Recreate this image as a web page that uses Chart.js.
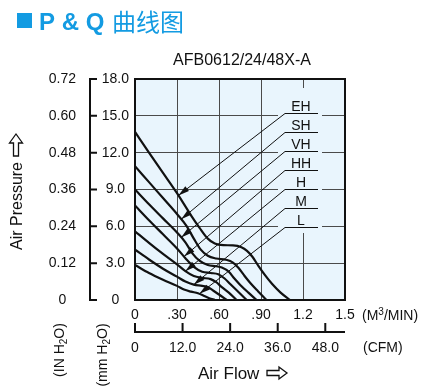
<!DOCTYPE html>
<html>
  <head>
    <title>P & Q</title>
    <script src="https://cdn.jsdelivr.net/npm/chart.js@4.4.1/dist/chart.umd.min.js"></script>
    <style>
      body { margin: 0; background: #fff; }
    </style>
  </head>

  <body>
    <canvas id="canvas" width="422" height="389"></canvas>
    <script>
      // P-Q curves, [air flow M3/MIN, pressure mmH2O]
      const curveNames = ['EH', 'SH', 'VH', 'HH', 'H', 'M', 'L'];
      const EH = [[0, 13.7], [0.1, 12.0], [0.2, 10.35], [0.3, 8.7], [0.4, 6.9], [0.46, 5.9], [0.52, 5.0], [0.57, 4.6], [0.63, 4.47], [0.7, 4.45], [0.76, 4.3], [0.8, 4.0], [0.84, 3.5], [0.88, 2.8], [0.93, 2.0], [0.98, 1.3], [1.04, 0.6], [1.107, 0]];
      const SH = [[0, 10.9], [0.1, 9.6], [0.2, 8.3], [0.3, 7.0], [0.37, 6.0], [0.42, 5.0], [0.47, 4.1], [0.52, 3.6], [0.58, 3.38], [0.65, 3.28], [0.7, 3.05], [0.74, 2.6], [0.78, 2.0], [0.83, 1.3], [0.88, 0.7], [0.94, 0]];
      const VH = [[0, 9.0], [0.1, 7.8], [0.2, 6.65], [0.3, 5.5], [0.36, 4.7], [0.41, 3.8], [0.46, 3.2], [0.52, 2.85], [0.58, 2.75], [0.62, 2.65], [0.67, 2.3], [0.71, 1.75], [0.75, 1.25], [0.81, 0.6], [0.869, 0]];
      const HH = [[0, 7.7], [0.1, 6.5], [0.2, 5.35], [0.3, 4.2], [0.36, 3.4], [0.42, 2.7], [0.48, 2.3], [0.54, 2.2], [0.595, 2.1], [0.64, 1.75], [0.68, 1.3], [0.73, 0.75], [0.798, 0]];
      const H = [[0, 5.6], [0.1, 4.65], [0.2, 3.75], [0.3, 2.9], [0.36, 2.35], [0.42, 1.95], [0.48, 1.8], [0.54, 1.7], [0.58, 1.45], [0.62, 1.05], [0.67, 0.6], [0.726, 0]];
      const M = [[0, 4.1], [0.1, 3.3], [0.2, 2.55], [0.3, 1.9], [0.36, 1.5], [0.42, 1.25], [0.48, 1.15], [0.52, 1.05], [0.56, 0.75], [0.6, 0.45], [0.655, 0]];
      const L = [[0, 2.85], [0.1, 2.2], [0.2, 1.65], [0.3, 1.15], [0.35, 0.85], [0.4, 0.68], [0.45, 0.55], [0.49, 0.35], [0.53, 0.15], [0.571, 0]];
      const curves = [EH, SH, VH, HH, H, M, L];
      // where each label's pointer meets its curve (M3/MIN)
      const pointerFlow = [0.31, 0.33, 0.33, 0.35, 0.36, 0.42, 0.46];

      const mmTicks = [0, 3, 6, 9, 12, 15, 18];
      const inTicks = [0, 0.12, 0.24, 0.36, 0.48, 0.6, 0.72];
      const m3Ticks = [0, 0.3, 0.6, 0.9, 1.2, 1.5];
      const m3Labels = ['0', '.30', '.60', '.90', '1.2', '1.5'];
      const cfmTicks = [0, 12, 24, 36, 48];
      const cfmPerM3 = 35.3147;

      const BLUE = '#139be2';
      const PLOT_BG = '#e9f5fd';
      const FONT = '"Liberation Sans", Arial, sans-serif';

      function pressAt(curve, q) {
        for (let i = 1; i < curve.length; i++) {
          if (q <= curve[i][0]) {
            const [x0, y0] = curve[i - 1];
            const [x1, y1] = curve[i];
            return y0 + (y1 - y0) * (q - x0) / (x1 - x0);
          }
        }
        return 0;
      }

      function setTicks(values) {
        return (scale) => { scale.ticks = values.map((v) => ({ value: v })); };
      }

      // text with a small lowered "2" (H2O)
      function drawH2O(ctx, before, after, x, y, size) {
        ctx.textAlign = 'left';
        ctx.font = size + 'px ' + FONT;
        const w1 = ctx.measureText(before).width;
        const w3 = ctx.measureText(after).width;
        ctx.font = Math.round(size * 0.7) + 'px ' + FONT;
        const w2 = ctx.measureText('2').width;
        let cx = x - (w1 + w2 + w3) / 2;
        ctx.font = size + 'px ' + FONT;
        ctx.fillText(before, cx, y);
        cx += w1;
        ctx.font = Math.round(size * 0.7) + 'px ' + FONT;
        ctx.fillText('2', cx, y + size * 0.22);
        cx += w2;
        ctx.font = size + 'px ' + FONT;
        ctx.fillText(after, cx, y);
      }

      // hollow arrow pointing right, starting at (x, y) centre line
      function hollowArrow(ctx, x, y, len, headLen, headH, shaftH) {
        ctx.beginPath();
        ctx.moveTo(x, y - shaftH / 2);
        ctx.lineTo(x + len - headLen, y - shaftH / 2);
        ctx.lineTo(x + len - headLen, y - headH / 2);
        ctx.lineTo(x + len, y);
        ctx.lineTo(x + len - headLen, y + headH / 2);
        ctx.lineTo(x + len - headLen, y + shaftH / 2);
        ctx.lineTo(x, y + shaftH / 2);
        ctx.closePath();
        ctx.lineWidth = 1.3;
        ctx.strokeStyle = '#111';
        ctx.stroke();
      }

      const decor = {
        id: 'decor',
        beforeDraw(chart) {
          const { ctx, chartArea: a } = chart;
          ctx.save();
          ctx.fillStyle = '#fff';
          ctx.fillRect(0, 0, chart.width, chart.height);
          ctx.fillStyle = PLOT_BG;
          ctx.fillRect(a.left, a.top, a.right - a.left, a.bottom - a.top);
          ctx.restore();
        },
        beforeDatasetsDraw(chart) {
          // label panel hides the grid behind the curve names
          const { ctx } = chart;
          ctx.save();
          ctx.fillStyle = PLOT_BG;
          ctx.fillRect(278, 88, 44, 145);
          ctx.restore();
        },
        afterDatasetsDraw(chart) {
          const { ctx, chartArea: a } = chart;
          const x = chart.scales.x;
          const y = chart.scales.y;
          const yIn = chart.scales.yIn;
          const xCfm = chart.scales.xCfm;
          ctx.save();

          // curve names, underlines, pointers
          curveNames.forEach((name, i) => {
            const ly = 113.5 + i * 19;
            ctx.fillStyle = '#111';
            ctx.font = '14px ' + FONT;
            ctx.textAlign = 'center';
            ctx.textBaseline = 'alphabetic';
            ctx.fillText(name, 301, ly - 3);
            ctx.strokeStyle = '#111';
            ctx.lineWidth = 1;
            ctx.beginPath();
            ctx.moveTo(285, ly);
            ctx.lineTo(318, ly);
            ctx.stroke();

            const q = pointerFlow[i];
            const tx = x.getPixelForValue(q);
            const ty = y.getPixelForValue(pressAt(curves[i], q));
            ctx.beginPath();
            ctx.moveTo(285, ly);
            ctx.lineTo(tx, ty);
            ctx.stroke();
            const dx = 285 - tx, dy = ly - ty;
            const len = Math.hypot(dx, dy);
            const ux = dx / len, uy = dy / len;
            ctx.beginPath();
            ctx.moveTo(tx, ty);
            ctx.lineTo(tx + ux * 11 - uy * 3, ty + uy * 11 + ux * 3);
            ctx.lineTo(tx + ux * 11 + uy * 3, ty + uy * 11 - ux * 3);
            ctx.closePath();
            ctx.fillStyle = '#111';
            ctx.fill();
          });

          // plot frame
          ctx.strokeStyle = '#111';
          ctx.lineWidth = 2;
          ctx.strokeRect(a.left, a.top, a.right - a.left, a.bottom - a.top);

          // inch scale bracket
          ctx.lineWidth = 2;
          ctx.beginPath();
          ctx.moveTo(90, yIn.getPixelForValue(0));
          ctx.lineTo(90, yIn.getPixelForValue(0.72));
          inTicks.forEach((v) => {
            const py = yIn.getPixelForValue(v);
            ctx.moveTo(89, py);
            ctx.lineTo(97, py);
          });
          ctx.stroke();

          // CFM axis line with upward ticks
          const cy = xCfm.top;
          ctx.beginPath();
          ctx.moveTo(a.left - 1, cy);
          ctx.lineTo(a.right, cy);
          cfmTicks.forEach((v) => {
            const px = xCfm.getPixelForValue(v);
            ctx.moveTo(px, cy + 1);
            ctx.lineTo(px, cy - 9);
          });
          ctx.stroke();

          // titles
          ctx.fillStyle = BLUE;
          ctx.fillRect(17, 13, 15, 15);
          ctx.textBaseline = 'alphabetic';
          ctx.textAlign = 'left';
          ctx.font = 'bold 24px ' + FONT;
          ctx.fillText('P & Q', 39, 30);
          ctx.font = '24px "Noto Sans CJK SC", sans-serif';
          ctx.fillText('曲线图', 112, 31);

          ctx.fillStyle = '#111';
          ctx.textAlign = 'center';
          ctx.font = '16px ' + FONT;
          ctx.fillText('AFB0612/24/48X-A', 242, 65);

          ctx.font = '14px ' + FONT;
          ctx.textAlign = 'left';
          ctx.fillText('(M', 362, 320);
          const w = ctx.measureText('(M').width;
          ctx.font = '10px ' + FONT;
          ctx.fillText('3', 362 + w, 315);
          const w3 = ctx.measureText('3').width;
          ctx.font = '14px ' + FONT;
          ctx.fillText('/MIN)', 362 + w + w3, 320);
          ctx.fillText('(CFM)', 363, 352);

          ctx.font = '17px ' + FONT;
          ctx.textAlign = 'left';
          ctx.fillText('Air Flow', 198, 379);
          hollowArrow(ctx, 267, 373, 20, 8, 12, 5);

          // rotated titles
          ctx.save();
          ctx.translate(22, 192);
          ctx.rotate(-Math.PI / 2);
          ctx.textAlign = 'left';
          ctx.font = '16px ' + FONT;
          const ap = 'Air Pressure';
          const apw = ctx.measureText(ap).width;
          const start = -(apw + 6 + 22) / 2;
          ctx.fillStyle = '#111';
          ctx.fillText(ap, start, 0);
          hollowArrow(ctx, start + apw + 6, -6, 22, 9, 13, 5);
          ctx.restore();

          ctx.save();
          ctx.translate(64, 350);
          ctx.rotate(-Math.PI / 2);
          drawH2O(ctx, '(IN H', 'O)', 0, 0, 14);
          ctx.restore();

          ctx.save();
          ctx.translate(107, 355);
          ctx.rotate(-Math.PI / 2);
          drawH2O(ctx, '(mm H', 'O)', 0, 0, 14);
          ctx.restore();

          ctx.restore();
        },
      };

      const tickFont = { family: FONT, size: 14 };

      window.onload = () => {
        const ctx = document.getElementById('canvas').getContext('2d');
        new Chart(ctx, {
          type: 'line',
          data: {
            datasets: curves.map((c, i) => ({
              label: curveNames[i],
              data: c.map(([q, p]) => ({ x: q, y: p })),
              borderColor: '#111',
              borderWidth: 2.2,
              pointRadius: 0,
              fill: false,
              cubicInterpolationMode: 'monotone',
              xAxisID: 'x',
              yAxisID: 'y',
            })),
          },
          options: {
            responsive: false,
            animation: false,
            layout: { padding: { left: 30, right: 77, top: 79, bottom: 32 } },
            plugins: { legend: { display: false }, tooltip: { enabled: false } },
            scales: {
              x: {
                type: 'linear',
                position: 'bottom',
                weight: 0,
                min: 0,
                max: 1.5,
                afterBuildTicks: setTicks(m3Ticks),
                afterFit: (s) => { s.height = 32; },
                grid: { color: '#4a4a4a', lineWidth: 1, drawTicks: false },
                border: { display: false },
                ticks: {
                  color: '#111',
                  font: tickFont,
                  padding: 7,
                  maxRotation: 0,
                  autoSkip: false,
                  callback: (v, i) => m3Labels[i],
                },
              },
              xCfm: {
                type: 'linear',
                position: 'bottom',
                weight: 1,
                min: 0,
                max: 1.5 * cfmPerM3,
                afterBuildTicks: setTicks(cfmTicks),
                afterFit: (s) => { s.height = 25; },
                grid: { display: false, drawTicks: false },
                border: { display: false },
                ticks: {
                  color: '#111',
                  font: tickFont,
                  padding: 8,
                  maxRotation: 0,
                  autoSkip: false,
                  callback: (v) => (v === 0 ? '0' : v.toFixed(1)),
                },
              },
              y: {
                type: 'linear',
                position: 'left',
                weight: 0,
                min: 0,
                max: 18,
                afterBuildTicks: setTicks(mmTicks),
                afterFit: (s) => { s.width = 45; },
                grid: { color: '#4a4a4a', lineWidth: 1, drawTicks: false },
                border: { display: false },
                ticks: {
                  color: '#111',
                  font: tickFont,
                  padding: 6,
                  crossAlign: 'center',
                  callback: (v) => (v === 0 ? '0' : v.toFixed(1)),
                },
              },
              yIn: {
                type: 'linear',
                position: 'left',
                weight: 1,
                min: 0,
                max: 0.72,
                afterBuildTicks: setTicks(inTicks),
                afterFit: (s) => { s.width = 60; },
                grid: { display: false, drawTicks: false },
                border: { display: false },
                ticks: {
                  color: '#111',
                  font: tickFont,
                  padding: 14,
                  crossAlign: 'center',
                  callback: (v) => (v === 0 ? '0' : v.toFixed(2)),
                },
              },
            },
          },
          plugins: [decor],
        });
      };
    </script>
  </body>
</html>
